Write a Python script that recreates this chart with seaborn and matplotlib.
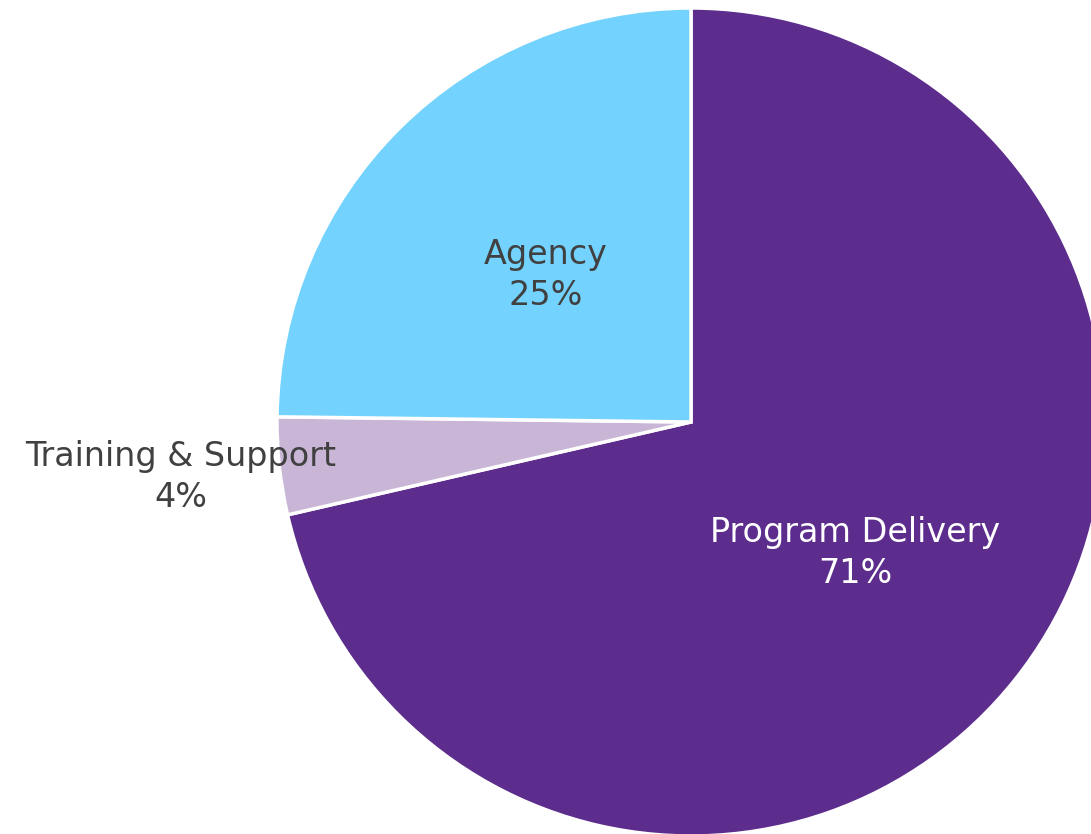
import numpy as np
import matplotlib.pyplot as plt
import seaborn as sns

# datos del gráfico
categorias = ["Program Delivery", "Training & Support", "Agency"]
valores = [71.4, 3.8, 24.8]
colores = ["#5C2D8C", "#C9B6D6", "#73D3FE"]
colores_texto = ["white", "#404040", "#404040"]
dist_etiqueta = [0.507, 1.24, 0.50]

sns.set_theme(style="white")
plt.rcParams['font.family'] = ['DejaVu Sans']

fig = plt.figure(figsize=(10.91, 8.34), dpi=100)
ax = fig.add_axes([0, 0, 1, 1])

wedges, _ = ax.pie(valores, colors=colores, startangle=90, counterclock=False,
                   radius=1.0, wedgeprops=dict(edgecolor="white", linewidth=2.5))

# etiquetas en el ángulo medio de cada sector
for w, cat, v, c, d in zip(wedges, categorias, valores, colores_texto, dist_etiqueta):
    ang = np.deg2rad((w.theta1 + w.theta2) / 2)
    ax.text(d * np.cos(ang), d * np.sin(ang), f"{cat}\n{v:.0f}%", ha="center", va="center",
            fontsize=24, color=c, linespacing=1.3)

ax.set_xlim(-691 / 414, 400 / 414)
ax.set_ylim(-412 / 414, 422 / 414)
ax.set_aspect("equal")
ax.axis("off")

fig.savefig("out.png", dpi=100)
